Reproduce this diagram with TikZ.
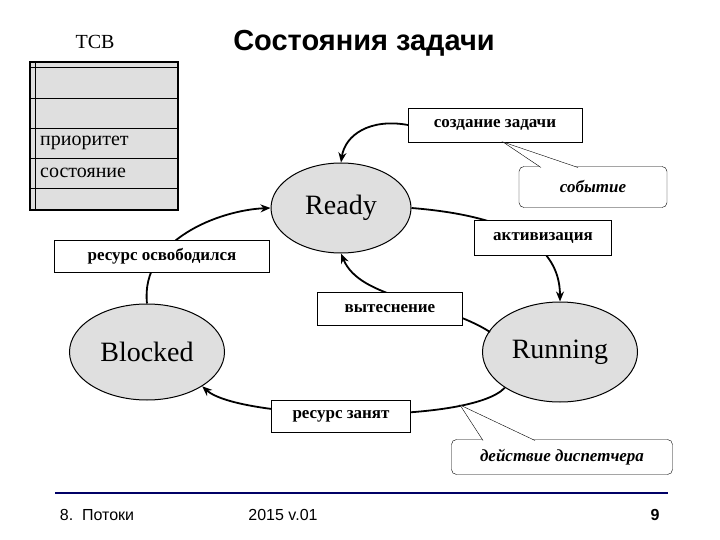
\documentclass[tikz,border=0pt]{standalone}
\usepackage{fontspec}
\setmainfont{Liberation Serif}
\newfontfamily\sansf{Liberation Sans}
\usetikzlibrary{arrows.meta,shapes.geometric}
\begin{document}
\begin{tikzpicture}[x=1pt,y=-1pt,
  st/.style={ellipse,draw,line width=1pt,fill=gray!25,minimum width=#1},
  lbl/.style={draw,fill=white,font=\bfseries\fontsize{17}{19}\selectfont,inner sep=0pt},
  call/.style={draw,fill=white,rounded corners=5pt,font=\bfseries\itshape\fontsize{17}{19}\selectfont,inner sep=0pt},
  arr/.style={line width=1.8pt,-{Stealth[length=10pt,width=8pt]}}]
\useasboundingbox (0,0) rectangle (720,540);
% TCB table
\node (tcb) at (95,42) {\fontsize{20}{22}\selectfont TCB};
\fill[gray!25] (30,62) rectangle (178,210);
\draw[line width=1.2pt] (30,62) rectangle (178,210);
\draw (35,62) -- (35,210);
\foreach \y in {67,98,128,158,188} \draw (30,\y) -- (178,\y);
\node[anchor=west,inner sep=0pt] (prio) at (40,143) {\fontsize{20}{22}\selectfont приоритет};
\node[anchor=west,inner sep=0pt] (sost) at (40,173) {\fontsize{20}{22}\selectfont состояние};
\node (title) at (364,43) {\sansf\bfseries\fontsize{29}{32}\selectfont Состояния задачи};
% states
\node[st=140pt,minimum height=90pt] (ready) at (341,208) {\fontsize{28}{30}\selectfont Ready};
\node[st=155pt,minimum height=96pt] (blocked) at (147,352) {\fontsize{28}{30}\selectfont Blocked};
\node[st=155pt,minimum height=100pt] (running) at (560,352) {\fontsize{28}{30}\selectfont Running};
% arrows
\coordinate (c1) at (408,125);
\coordinate (rs) at (490,332);
\draw[arr] (c1) .. controls (370,118) and (345,135) .. (ready.north);
\draw[arr] (ready.east) .. controls (500,215) and (560,240) .. (running.north);
\draw[arr] (rs) .. controls (440,300) and (360,300) .. (ready.south);
\draw[arr] (running.south west) .. controls (470,425) and (240,420) .. (blocked.south east);
\draw[arr] (blocked.north) .. controls (140,240) and (220,210) .. (ready.west);
% labels
\node[lbl,minimum width=174pt,minimum height=34pt] (cz) at (495,125) {создание задачи};
\node[lbl,minimum width=137pt,minimum height=35pt] (akt) at (543,238) {активизация};
\node[lbl,minimum width=215pt,minimum height=32pt] (ros) at (162,256) {ресурс освободился};
\node[lbl,minimum width=145pt,minimum height=33pt] (vyt) at (390,309) {вытеснение};
\node[lbl,minimum width=139pt,minimum height=32pt] (rz) at (341,416) {ресурс занят};
% callouts
\node[call,minimum width=148pt,minimum height=41pt] (sob) at (593,187) {событие};
\node[call,minimum width=221pt,minimum height=35pt] (dd) at (562,457) {действие диспетчера};
\coordinate (p1) at (503,142);
\coordinate (p2) at (460,405);
\fill[white] (541,167.5) -- (p1) -- (578,167.5) -- cycle;
\draw (541,167.5) -- (p1) -- (578,167.5);
\fill[white] (483,440.5) -- (p2) -- (535,440.5) -- cycle;
\draw (483,440.5) -- (p2) -- (535,440.5);
% footer
\draw[line width=2.5pt,blue!40!black] (55,493) coordinate (fl) -- (668,493) coordinate (fr);
\node (f1) at (97,515) {\sansf\fontsize{16}{18}\selectfont 8.\ \ Потоки};
\node (f2) at (283,515) {\sansf\fontsize{16}{18}\selectfont 2015 v.01};
\node (f3) at (655,515) {\sansf\bfseries\fontsize{16}{18}\selectfont 9};
\end{tikzpicture}
\end{document}
